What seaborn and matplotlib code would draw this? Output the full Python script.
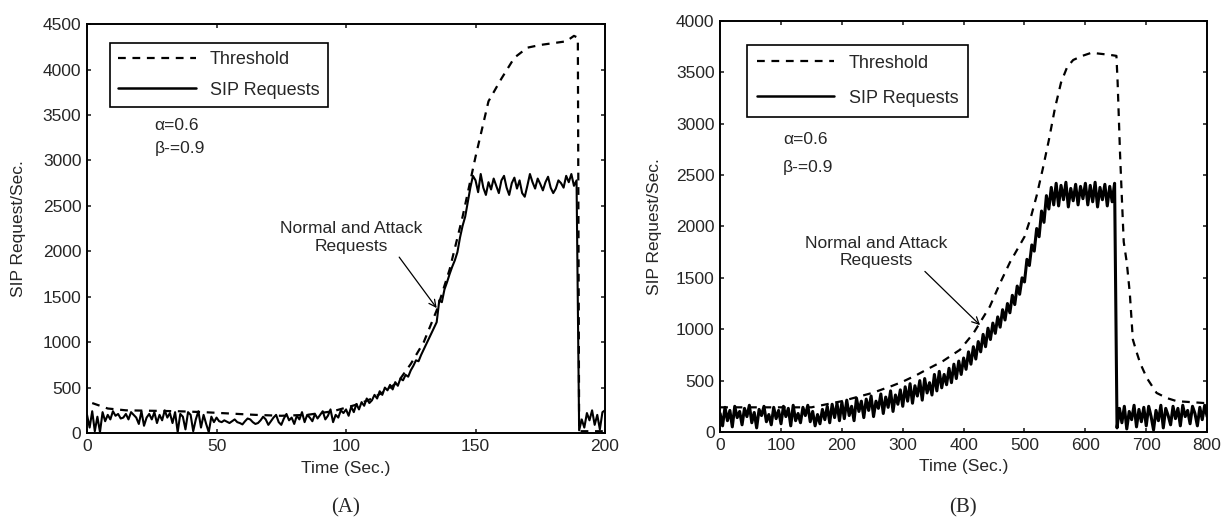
import numpy as np
import pandas as pd
import matplotlib
matplotlib.use("Agg")
import matplotlib.pyplot as plt
import seaborn as sns

# ---- (A) left panel data ----
left_sip_t = list(range(0, 201))
left_sip = [
    200, 60, 240, 20, 180, 10, 230, 130, 200, 150, 240, 190, 210, 160, 170, 210, 150, 230, 200, 170, 100, 240, 80, 170, 210,
    150, 230, 110, 200, 140, 250, 170, 220, 110, 230, 10, 210, 180, 40, 230, 200, 20, 150, 240, 60, 200, 100, 10, 180, 120,
    170, 130, 120, 140, 125, 110, 130, 150, 120, 110, 95, 130, 160, 150, 120, 100, 110, 140, 180, 150, 90, 130, 170, 200, 120,
    90, 160, 210, 140, 170, 100, 190, 150, 230, 120, 200, 170, 130, 210, 160, 200, 240, 150, 190, 260, 120, 200, 170, 250, 220,
    260, 190, 290, 230, 320, 260, 340, 300, 380, 330, 360, 420, 380, 460, 420, 500, 470, 530, 480, 560, 520, 600, 580, 640, 620,
    690, 740, 800, 790, 860, 920, 980, 1040, 1100, 1160, 1220, 1460, 1440, 1580, 1660, 1750, 1830, 1900, 1990, 2150, 2280, 2380, 2540, 2700, 2830,
    2780, 2650, 2850, 2700, 2620, 2760, 2680, 2800, 2720, 2640, 2780, 2830, 2700, 2620, 2750, 2810, 2690, 2780, 2640, 2600, 2720, 2850, 2760, 2690, 2800,
    2740, 2670, 2760, 2820, 2700, 2640, 2690, 2780, 2750, 2700, 2830, 2760, 2850, 2720, 2780,
    30, 150, 60, 220, 140, 250, 90, 200, 40, 230, 250,
]
left_thr_t = [2, 8, 15, 25, 35, 45, 55, 65, 75, 85, 95, 100, 105, 110, 115, 120, 125, 130, 135, 140, 145,
              150, 155, 160, 165, 170, 175, 180, 185, 188, 189.5, 190, 195, 200]
left_thr = [330, 270, 250, 245, 240, 230, 215, 200, 190, 200, 240, 280, 320, 380, 460, 560, 760, 1000, 1350, 1800, 2380,
            3040, 3650, 3900, 4130, 4240, 4270, 4290, 4310, 4370, 4350, 20, 20, 20]

# ---- (B) right panel data ----
right_sip_t = list(range(0, 801, 4))
right_sip = [
    180, 60, 240, 110, 210, 50, 250, 140, 200, 70, 230, 150, 260, 90, 190, 40, 220, 160, 250, 100, 170, 70, 240, 130, 210,
    80, 250, 150, 230, 60, 260, 110, 180, 90, 240, 160, 260, 100, 200, 60, 170, 80, 220, 120, 250, 90, 270, 140, 280, 110,
    290, 130, 310, 160, 250, 110, 330, 200, 300, 140, 320, 210, 350, 150, 300, 230, 370, 180, 340, 240, 400, 200, 360, 270, 410,
    250, 440, 300, 470, 280, 450, 350, 500, 310, 520, 380, 480, 360, 560, 400, 590, 430, 560, 460, 620, 480, 660, 520, 690, 560,
    720, 610, 780, 660, 830, 710, 880, 780, 950, 830, 1010, 900, 1060, 960, 1120, 1020, 1190, 1090, 1250, 1160, 1330, 1240, 1420, 1340, 1500,
    1460, 1680, 1620, 1820, 1760, 1980, 1900, 2150, 2040, 2300, 2170, 2380, 2210, 2420, 2200, 2400, 2260, 2430, 2190, 2370, 2250, 2410, 2210, 2390, 2270,
    2420, 2210, 2400, 2240, 2430, 2190, 2380, 2260, 2410, 2200, 2390, 2240, 2420, 40, 230, 90, 250, 30, 200, 120, 260, 50, 220, 100, 240,
    60, 250, 150, 20, 210, 110, 260, 40, 230, 160, 70, 250, 130, 230, 60, 260, 150, 210, 80, 250, 180, 60, 240, 120, 260,
    150,
]
right_thr_t = [0, 50, 100, 150, 200, 250, 283, 300, 323, 340, 366, 394, 416, 443, 460, 476, 500, 510, 520, 530, 540,
               550, 560, 570, 580, 595, 610, 625, 640, 651, 653, 657, 660, 663, 668, 673, 678, 684, 690, 701, 717,
               734, 750, 775, 800]
right_thr = [240, 240, 240, 240, 300, 380, 450, 490, 555, 610, 690, 800, 960, 1220, 1450, 1650, 1900, 2080, 2300, 2560, 2840,
             3150, 3400, 3550, 3620, 3660, 3690, 3680, 3670, 3660, 3400, 2700, 2270, 1850, 1650, 1350, 900, 780, 670, 525, 380,
             330, 300, 290, 280]

sns.set_style("ticks")
plt.rcParams['font.family'] = ['Liberation Sans', 'DejaVu Sans']
plt.rcParams['xtick.direction'] = 'in'
plt.rcParams['ytick.direction'] = 'in'
plt.rcParams['xtick.top'] = True
plt.rcParams['ytick.right'] = True
plt.rcParams['axes.linewidth'] = 1.4
plt.rcParams['xtick.major.width'] = 1.2
plt.rcParams['ytick.major.width'] = 1.2
plt.rcParams['xtick.major.size'] = 3
plt.rcParams['ytick.major.size'] = 3

fig = plt.figure(figsize=(12.31, 5.23), dpi=100)
axA = fig.add_axes([0.0707, 0.172, 0.4208, 0.782])
axB = fig.add_axes([0.585, 0.174, 0.3956, 0.786])

fs = 12.5


def draw(ax, thr_t, thr, sip_t, sip, xmax, ymax, xstep, lw_sip, ylpad):
    d_thr = pd.DataFrame({"t": thr_t, "v": thr})
    d_sip = pd.DataFrame({"t": sip_t, "v": sip})
    sns.lineplot(data=d_thr, x="t", y="v", ax=ax, color="black", linewidth=1.6,
                 linestyle=(0, (3.5, 3)), estimator=None, sort=False, label="Threshold")
    sns.lineplot(data=d_sip, x="t", y="v", ax=ax, color="black", linewidth=lw_sip,
                 estimator=None, sort=False, label="SIP Requests")
    ax.set_xlim(0, xmax)
    ax.set_ylim(0, ymax)
    ax.set_xticks(np.arange(0, xmax + 1, xstep))
    ax.set_yticks(np.arange(0, ymax + 1, 500))
    ax.tick_params(labelsize=fs, pad=4)
    ax.set_xlabel("Time (Sec.)", fontsize=fs, labelpad=5)
    ax.set_ylabel("SIP Request/Sec.", fontsize=fs, labelpad=ylpad)
    for s in ax.spines.values():
        s.set_visible(True)
        s.set_color("black")


draw(axA, left_thr_t, left_thr, left_sip_t, left_sip, 200, 4500, 50, 1.5, 12)
draw(axB, right_thr_t, right_thr, right_sip_t, right_sip, 800, 4000, 100, 2.2, 10)

legA = axA.legend(loc="upper left", bbox_to_anchor=(0.044, 0.954), borderaxespad=0,
                  fancybox=False, edgecolor="black", framealpha=1, fontsize=13,
                  handlelength=4.3, labelspacing=0.75, borderpad=0.45)
legB = axB.legend(loc="upper left", bbox_to_anchor=(0.055, 0.942), borderaxespad=0,
                  fancybox=False, edgecolor="black", framealpha=1, fontsize=13,
                  handlelength=4.3, labelspacing=1.0, borderpad=0.55)
for leg in (legA, legB):
    leg.get_frame().set_linewidth(1.2)
    leg.get_lines()[1].set_linewidth(1.8)

# parameter text
axA.text(26, 3388, "\u03b1=0.6", fontsize=fs, va="center")
axA.text(26, 3135, "\u03b2-=0.9", fontsize=fs, va="center")
axB.text(103, 2842, "\u03b1=0.6", fontsize=fs, va="center")
axB.text(103, 2569, "\u03b2-=0.9", fontsize=fs, va="center")

# annotations
axA.annotate("Normal and Attack\nRequests", xy=(135, 1375), xytext=(102, 2150),
             ha="center", va="center", fontsize=fs,
             arrowprops=dict(arrowstyle="->", color="black", lw=0.9, shrinkA=0, shrinkB=0,
                             relpos=(0.82, 0.0)))
axB.annotate("Normal and Attack\nRequests", xy=(427, 1040), xytext=(256, 1752),
             ha="center", va="center", fontsize=fs,
             arrowprops=dict(arrowstyle="->", color="black", lw=0.9, shrinkA=0, shrinkB=0,
                             relpos=(0.82, 0.0)))

fig.text(346 / 1231, 1 - 508 / 523, "(A)", ha="center", va="center",
         family="Liberation Serif", fontsize=15)
fig.text(963 / 1231, 1 - 508 / 523, "(B)", ha="center", va="center",
         family="Liberation Serif", fontsize=15)

fig.savefig("out.png", dpi=100, facecolor="white")
